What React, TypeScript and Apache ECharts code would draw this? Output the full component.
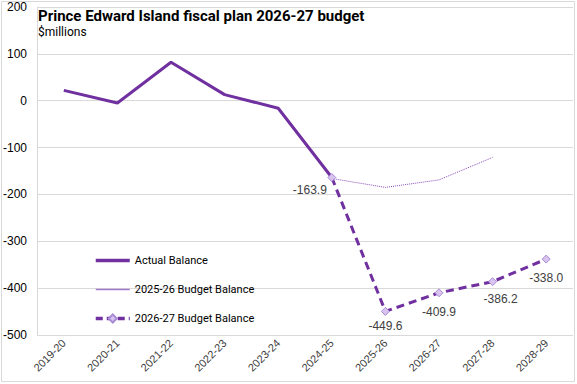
import React, { useEffect, useRef } from "react";
import * as echarts from "echarts";

const categories = ["2019-20", "2020-21", "2021-22", "2022-23", "2023-24", "2024-25", "2025-26", "2026-27", "2027-28", "2028-29"];
const actualBalance: (number | null)[] = [22, -5, 82, 13, -16, -163.9, null, null, null, null];
const budget2025: (number | null)[] = [null, null, null, null, null, -166, -185, -169, -121, null];
const budget2026: (number | null)[] = [null, null, null, null, null, -163.9, -449.6, -409.9, -386.2, -338.0];
const yTicks = { min: -500, max: 200, interval: 100 };

const PURPLE = "#7030A0";
const LIGHT_PURPLE = "#a47ad0";
const labelOffsets: Record<number, [number, number]> = {
  5: [-22, -2],
  6: [0, 0],
  7: [0, 5],
  8: [8, 3],
  9: [0, 4],
};

export default function App() {
  const ref = useRef<HTMLDivElement>(null);
  useEffect(() => {
    if (!ref.current) return;
    const chart = echarts.init(ref.current, undefined, { renderer: "svg" });
    const b26Data = budget2026.map((v, i) =>
      v === null
        ? null
        : {
            value: v,
            label: {
              show: true,
              offset: labelOffsets[i] || [0, 0],
            },
          }
    );
    chart.setOption({
      animation: false,
      backgroundColor: "#ffffff",
      textStyle: { fontFamily: "Roboto" },
      title: {
        text: "Prince Edward Island fiscal plan 2026-27 budget",
        subtext: "$millions",
        left: 33,
        top: 3,
        itemGap: 3,
        textStyle: { fontFamily: "Roboto", fontSize: 15, fontWeight: "bold", color: "#000000" },
        subtextStyle: { fontFamily: "Roboto", fontSize: 12, color: "#000000" },
      },
      graphic: [
        {
          type: "rect",
          shape: { x: 1.5, y: 1.5, width: 573, height: 380 },
          style: { fill: "none", stroke: "#d9d9d9", lineWidth: 1 },
          silent: true,
        },
      ],
      legend: {
        orient: "vertical",
        left: 89,
        top: 250,
        itemWidth: 34,
        itemHeight: 10,
        itemGap: 18,
        textStyle: { fontFamily: "Roboto", fontSize: 11, color: "#000000" },
        data: [
          {
            name: "Actual Balance",
            itemStyle: { opacity: 0 },
            lineStyle: { width: 3.5, color: PURPLE, type: "solid" },
          },
          {
            name: "2025-26 Budget Balance",
            itemStyle: { opacity: 0 },
            lineStyle: { width: 1.5, color: LIGHT_PURPLE, type: "solid" },
          },
          {
            name: "2026-27 Budget Balance",
            lineStyle: { width: 3.5, color: PURPLE, type: [7, 4] },
          },
        ],
      },
      grid: { left: 36, right: 4, top: 7, bottom: 49, containLabel: false },
      xAxis: {
        type: "category",
        data: categories,
        boundaryGap: true,
        axisLine: { show: false },
        axisTick: { show: false },
        axisLabel: {
          rotate: 45,
          fontFamily: "Liberation Sans",
          fontSize: 11,
          color: "#404040",
          margin: 6,
        },
      },
      yAxis: {
        type: "value",
        min: yTicks.min,
        max: yTicks.max,
        interval: yTicks.interval,
        axisLine: { show: true, lineStyle: { color: "#d9d9d9" } },
        axisTick: { show: false },
        splitLine: { show: true, lineStyle: { color: "#d9d9d9", width: 1 } },
        axisLabel: { fontFamily: "Liberation Sans", fontSize: 12, color: "#000000", margin: 10 },
      },
      series: [
        {
          name: "Actual Balance",
          type: "line",
          data: actualBalance,
          symbol: "none",
          lineStyle: { color: PURPLE, width: 3 },
          itemStyle: { color: PURPLE },
          z: 3,
        },
        {
          name: "2025-26 Budget Balance",
          type: "line",
          data: budget2025,
          symbol: "none",
          lineStyle: { color: "#8a4cb8", width: 1, type: [1, 1] },
          itemStyle: { color: "#8a4cb8" },
          z: 2,
        },
        {
          name: "2026-27 Budget Balance",
          type: "line",
          data: b26Data,
          symbol: "diamond",
          symbolSize: 8,
          lineStyle: { color: PURPLE, width: 3, type: [8, 5] },
          itemStyle: { color: "#d9c4f0", borderColor: "#a98bd6", borderWidth: 1 },
          label: {
            show: true,
            position: "bottom",
            distance: 4,
            fontFamily: "Liberation Sans",
            fontSize: 12,
            color: "#404040",
            formatter: (p: any) => Number(p.value).toFixed(1),
          },
          z: 4,
        },
      ],
    });
    return () => chart.dispose();
  }, []);
  return (
    <div
      ref={ref}
      style={{ position: "fixed", left: 0, top: 0, width: 577, height: 384 }}
    />
  );
}
